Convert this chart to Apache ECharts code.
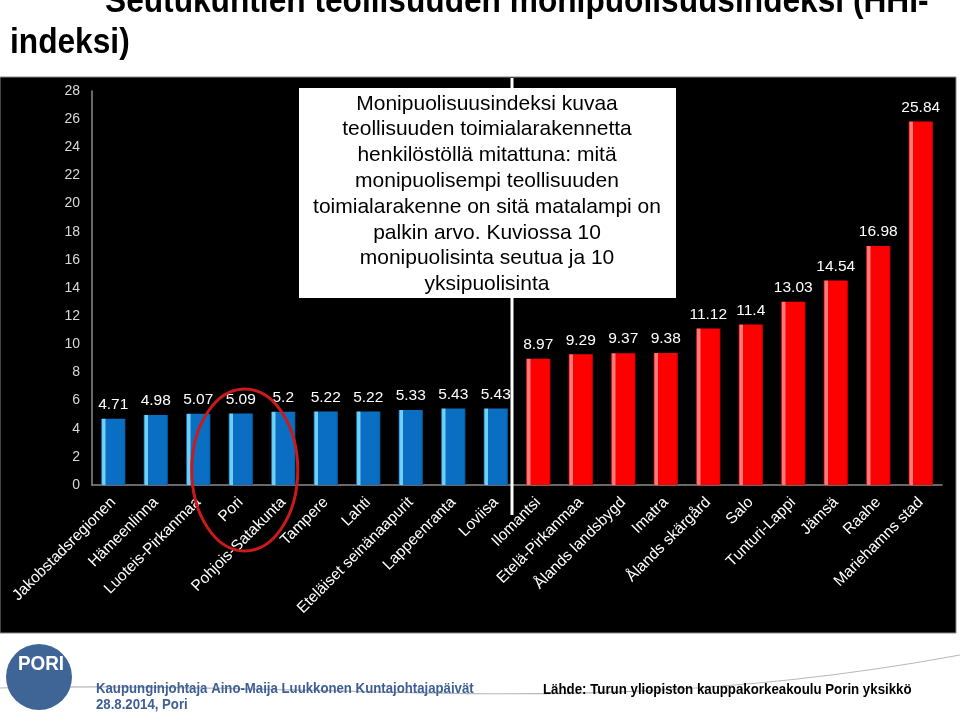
<!DOCTYPE html>
<html>
<head>
<meta charset="utf-8">
<script src="https://cdn.jsdelivr.net/npm/echarts@6/dist/echarts.min.js"></script>
<style>
html,body{margin:0;padding:0;background:#fff;}
#c{width:960px;height:712px;}
</style>
</head>
<body>
<div id="c"></div>
<script>
const categories = ['Jakobstadsregionen','Hämeenlinna','Luoteis-Pirkanmaa','Pori','Pohjois-Satakunta','Tampere','Lahti','Eteläiset seinänaapurit','Lappeenranta','Loviisa','Ilomantsi','Etelä-Pirkanmaa','Ålands landsbygd','Imatra','Ålands skärgård','Salo','Tunturi-Lappi','Jämsä','Raahe','Mariehamns stad'];
const values = [4.71,4.98,5.07,5.09,5.2,5.22,5.22,5.33,5.43,5.43,8.97,9.29,9.37,9.38,11.12,11.4,13.03,14.54,16.98,25.84];
const groups = ['moni','moni','moni','moni','moni','moni','moni','moni','moni','moni','yksi','yksi','yksi','yksi','yksi','yksi','yksi','yksi','yksi','yksi'];
const yTicks = {min:0, max:28, interval:2};
const titleLines = ['Seutukuntien teollisuuden monipuolisuusindeksi (HHI-','indeksi)'];
const boxLines = ['Monipuolisuusindeksi kuvaa','teollisuuden toimialarakennetta','henkilöstöllä mitattuna: mitä','monipuolisempi teollisuuden','toimialarakenne on sitä matalampi on','palkin arvo. Kuviossa 10','monipuolisinta seutua ja 10','yksipuolisinta'];
const footerLeft = ['Kaupunginjohtaja Aino-Maija Luukkonen Kuntajohtajapäivät','28.8.2014, Pori'];
const footerRight = 'Lähde: Turun yliopiston kauppakorkeakoulu Porin yksikkö';

const sans = '"Liberation Sans",Arial,sans-serif';

function grad(light, main, dark){
  return new echarts.graphic.LinearGradient(0,0,1,0,[
    {offset:0,color:dark},{offset:0.06,color:light},{offset:0.16,color:light},
    {offset:0.2,color:main},{offset:0.92,color:main},{offset:1,color:dark}]);
}
const styles = {
  moni: grad('#6fd0f8','#0a6fc2','#055a9e'),
  yksi: grad('#ff7a7a','#ff0000','#d00000')
};

const chart = echarts.init(document.getElementById('c'));
const graphics = [
  {type:'rect', z:-10, shape:{x:0,y:77,width:956,height:556}, style:{fill:'#000', stroke:'#888', lineWidth:1}},
  {type:'text', x:105, y:2, scaleX:0.905, style:{text:titleLines[0], font:'bold 35px '+sans, fill:'#000', verticalAlign:'middle'}},
  {type:'text', x:10, y:43, scaleX:0.905, style:{text:titleLines[1], font:'bold 35px '+sans, fill:'#000', verticalAlign:'middle'}},
  {type:'bezierCurve', z:-5, shape:{x1:0,y1:688,x2:960,y2:655,cpx1:350,cpy1:680,cpx2:600,cpy2:722}, style:{stroke:'#b8b8b8', lineWidth:1.2, fill:null}},
  {type:'circle', shape:{cx:39,cy:677,r:33}, style:{fill:'#3f6597'}},
  {type:'text', x:41, y:664, scaleX:0.9, style:{text:'PORI', font:'bold 21px '+sans, fill:'#fff', align:'center', verticalAlign:'middle'}},
  {type:'text', x:96, y:689, scaleX:0.88, style:{text:footerLeft[0], font:'bold 15px '+sans, fill:'#3d5f96', verticalAlign:'middle'}},
  {type:'text', x:96, y:705, scaleX:0.88, style:{text:footerLeft[1], font:'bold 15px '+sans, fill:'#3d5f96', verticalAlign:'middle'}},
  {type:'text', x:543, y:690, scaleX:0.885, style:{text:footerRight, font:'bold 15px '+sans, fill:'#000', verticalAlign:'middle'}},
  {type:'rect', z:20, shape:{x:299,y:88,width:377,height:210}, style:{fill:'#fff'}},
  {type:'text', z:21, x:487, y:91, style:{text:boxLines.join('\n'), font:'21px '+sans, lineHeight:25.8, fill:'#000', align:'center', verticalAlign:'top'}}
];

chart.setOption({
  backgroundColor:'#fff',
  animation:false,
  grid:{left:92, right:18, top:91, bottom:227, containLabel:false},
  xAxis:{type:'category', data:categories,
    axisLine:{lineStyle:{color:'#8c8c8c', width:1.5}}, axisTick:{show:false},
    axisLabel:{rotate:45, color:'#fff', fontSize:15.5, fontFamily:sans, margin:15, interval:0}},
  yAxis:{type:'value', min:yTicks.min, max:yTicks.max, interval:yTicks.interval,
    splitLine:{show:false}, axisTick:{show:false},
    axisLine:{show:true, lineStyle:{color:'#8c8c8c', width:1.5}},
    axisLabel:{color:'#d9d9d9', fontSize:14, fontFamily:sans, margin:12}},
  series:[{type:'bar', barWidth:'57%',
    data: values.map((v,i)=>({value:v, itemStyle:{color:styles[groups[i]]}})),
    label:{show:true, position:'top', distance:6, color:'#fff', fontSize:15.5, fontFamily:sans}
  }],
  graphic: graphics
});

// separator between the two groups, and ellipse around Pori
const xa = chart.convertToPixel({xAxisIndex:0}, categories[9]);
const xb = chart.convertToPixel({xAxisIndex:0}, categories[10]);
const sepX = (xa+xb)/2 - 5;
const xp = chart.convertToPixel({xAxisIndex:0}, 'Pori');
graphics.push({type:'line', z:10, shape:{x1:sepX,y1:78,x2:sepX,y2:515}, style:{stroke:'#fff', lineWidth:3}});
graphics.push({type:'ellipse', z:15, shape:{cx:xp+4, cy:470, rx:53, ry:81}, style:{stroke:'#cc1a1a', lineWidth:3, fill:null}});
chart.setOption({graphic: graphics}, {replaceMerge:['graphic']});
</script>
</body>
</html>
